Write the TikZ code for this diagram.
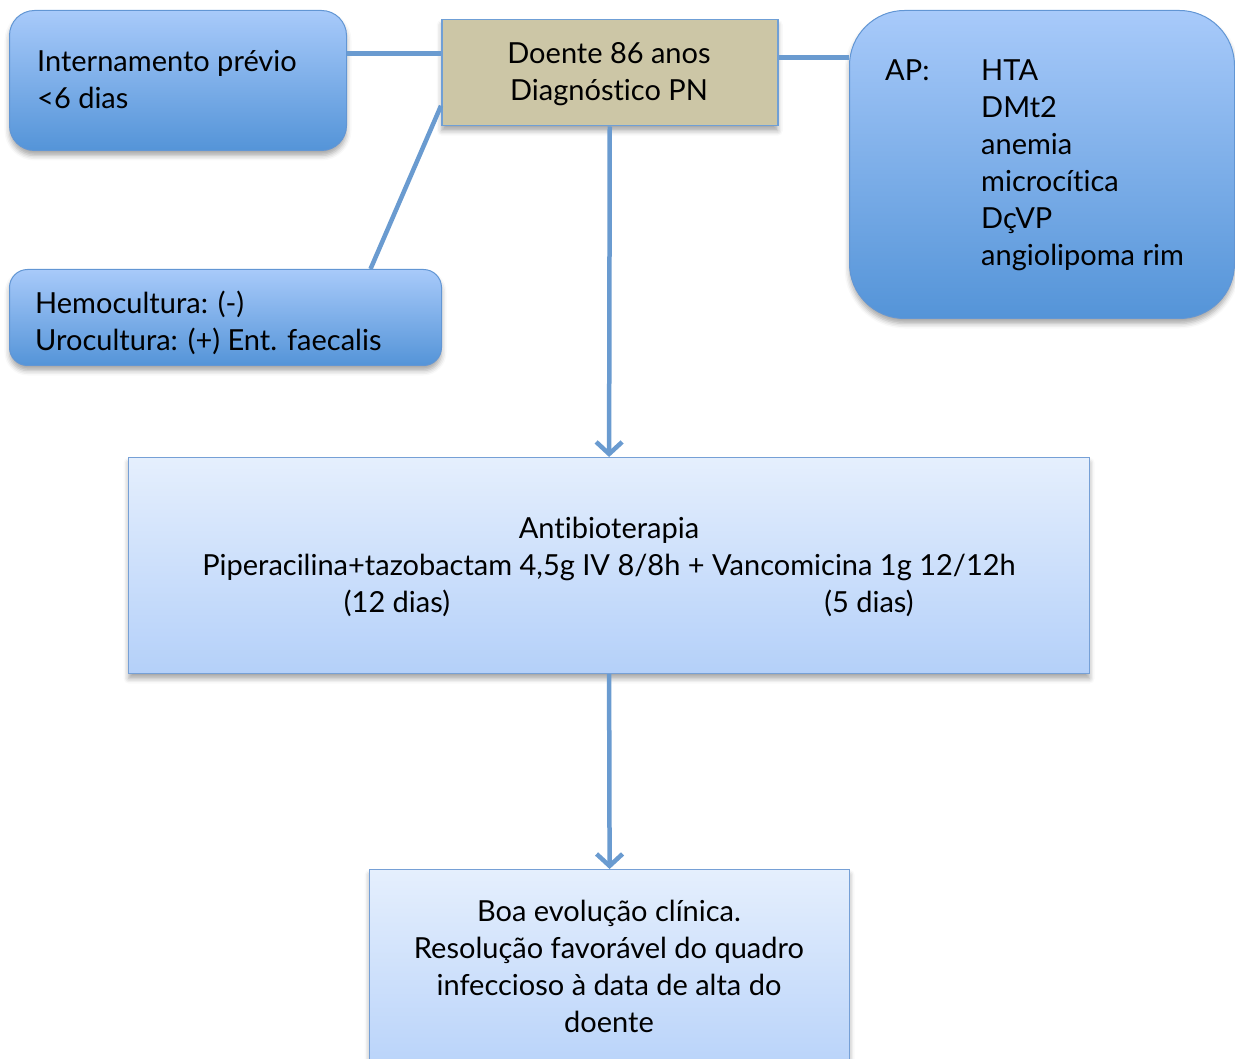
\documentclass[tikz,border=0pt]{standalone}
\usepackage{fontspec}
\setmainfont[Ligatures=NoCommon]{Lato}
\usetikzlibrary{arrows.meta,shadows.blur}
\definecolor{skytop}{RGB}{168,202,250}
\definecolor{skybot}{RGB}{84,148,216}
\definecolor{skyedge}{RGB}{98,150,212}
\definecolor{palet}{RGB}{229,239,253}
\definecolor{paleb}{RGB}{180,208,249}
\definecolor{paleedge}{RGB}{118,160,214}
\definecolor{sand}{RGB}{204,198,166}
\definecolor{sandedge}{RGB}{111,159,214}
\definecolor{linkblue}{RGB}{106,155,208}
\begin{document}
\begin{tikzpicture}[x=1pt,y=-1pt,
  txt/.style={font=\fontsize{29}{37}\selectfont, inner sep=0pt},
  softshadow/.style={blur shadow={shadow xshift=0pt, shadow yshift=-5pt,
      shadow blur radius=5pt, shadow opacity=35}},
  darkbox/.style={draw=skyedge, line width=1pt, top color=skytop,
      bottom color=skybot, softshadow, inner sep=0pt},
  lightbox/.style={draw=paleedge, line width=1.2pt, top color=palet,
      bottom color=paleb, softshadow, inner sep=0pt},
  sandbox/.style={draw=sandedge, line width=1.5pt, fill=sand, softshadow,
      inner sep=0pt},
  link/.style={draw=linkblue, line width=4.5pt},
  flow/.style={link, -{Straight Barb[length=12pt,width=26pt]}},
]
\useasboundingbox (0,0) rectangle (1235,1059);

% boxes
\node[darkbox, rounded corners=25pt, minimum width=337pt, minimum height=140pt,
      anchor=north west] (prior) at (9,10) {};
\node[sandbox, minimum width=336pt, minimum height=106pt,
      anchor=north west] (patient) at (441,19) {};
\node[darkbox, rounded corners=55pt, minimum width=385pt, minimum height=308pt,
      anchor=north west] (history) at (849,10) {};
\node[darkbox, rounded corners=18pt, minimum width=432pt, minimum height=96pt,
      anchor=north west] (culture) at (9,269) {};
\node[lightbox, minimum width=961pt, minimum height=216pt,
      anchor=north west] (therapy) at (128,457) {};
\node[lightbox, minimum width=480pt, minimum height=220pt,
      anchor=north west] (outcome) at (369,869) {};

% connectors
\draw[link] ([yshift=27pt]prior.east) -- ([yshift=27pt]prior.east -| patient.west);
\draw[link] ([yshift=15pt]patient.east) -- ([yshift=15pt]patient.east -| history.west);
\draw[link] ([yshift=-33pt]patient.west) -- ([xshift=145pt]culture.north);
\draw[flow] (patient.south) -- (therapy.north);
\draw[flow] (therapy.south) -- (outcome.north);

% texts
\node[txt, anchor=west, align=left] (priortxt) at (37,80)
  {Internamento prévio\\<6 dias};
\node[txt, align=center] (patienttxt) at (609,74)
  {Doente 86 anos\\Diagnóstico PN};
\node[txt, anchor=base west] (aplabel) at (885,81) {AP:};
\node[txt, anchor=base west, align=left] (aplist) at (981,266)
  {HTA\\DMt2\\anemia\\microcítica\\DçVP\\angiolipoma rim};
\node[txt, anchor=west, align=left] (culturetxt) at (35,323)
  {Hemocultura: (-)\\Urocultura: (+) Ent. faecalis};
\node[txt, align=center] (therapytxt) at (609,567)
  {Antibioterapia\\
   Piperacilina+tazobactam 4,5g IV 8/8h + Vancomicina 1g 12/12h\\
   \makebox[0pt][l]{\hspace*{-212pt}\makebox[0pt]{(12 dias)}\hspace*{472pt}\makebox[0pt]{(5 dias)}}};
\node[txt, align=center] (outcometxt) at (609,966)
  {Boa evolução clínica.\\Resolução favorável do quadro\\
   infeccioso à data de alta do\\doente};
\end{tikzpicture}
\end{document}
